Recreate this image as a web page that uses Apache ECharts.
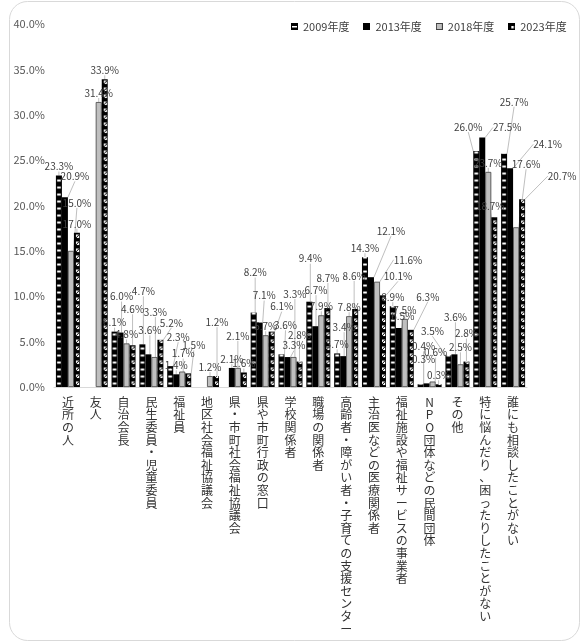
<!DOCTYPE html>
<html><head><meta charset="utf-8">
<script src="https://cdn.jsdelivr.net/npm/echarts@6/dist/echarts.min.js"></script>
<style>html,body{margin:0;padding:0;background:#fff}#c{width:582px;height:642px}</style>
</head><body><div id="c"></div>
<script>
// ---- data ----
const categories = ['近所の人','友人','自治会長','民生委員・児童委員','福祉員','地区社会福祉協議会','県・市町社会福祉協議会','県や市町行政の窓口','学校関係者','職場の関係者','高齢者・障がい者・子育ての支援センター','主治医などの医療関係者','福祉施設や福祉サービスの事業者','NPO団体などの民間団体','その他','特に悩んだり、困ったりしたことがない','誰にも相談したことがない'];
const years = ['2009年度','2013年度','2018年度','2023年度'];
const v2009 = [23.3, null, 6.1, 4.7, 2.3, null, null, 8.2, 3.6, 9.4, 3.7, 14.3, 8.9, 0.3, 3.5, 26.0, 25.7];
const v2013 = [20.9, null, 6.0, 3.6, 1.4, null, 2.1, 7.1, 3.3, 6.7, 3.4, 12.1, 6.5, 0.4, 3.6, 27.5, 24.1];
const v2018 = [15.0, 31.4, 4.8, 3.3, 1.7, 1.2, 2.1, 5.7, 3.3, 7.9, 7.8, 11.6, 7.5, 0.6, 2.5, 23.7, 17.6];
const v2023 = [17.0, 33.9, 4.6, 5.2, 1.5, 1.2, 1.6, 6.1, 2.8, 8.7, 8.6, 10.1, 6.3, 0.3, 2.8, 18.7, 20.7];
const seriesValues = [v2009, v2013, v2018, v2023];

// ---- label nudges (label centre relative to bar top-centre), by category index ----
const shift2009 = {3:[1,-53],4:[8,-29],7:[1.5,-40],8:[4,-29],9:[1,-43],13:[3,-25],14:[-16,-24],15:[-8,-24],16:[10,-52]};
const shift2013 = {0:[10,-21],2:[1,-36],3:[1.5,-24],7:[4.5,-27],8:[6.5,-11.5],9:[0.7,-36],10:[1,-29],11:[20,-46],12:[4,-11.5],13:[-3,-37],14:[1,-37],15:[25,-10],16:[37.5,-24]};
const shift2018 = {0:[6,-48],3:[1,-45],4:[1,-18],6:[0,-32],8:[1.4,-63],11:[31,-22],13:[3,-29],14:[0,-17],16:[10,-63]};
const shift2023 = {2:[0,-36],3:[11,-17],4:[5.6,-28],5:[1,-54],7:[10,-25],8:[0,-26],9:[0.6,-30],10:[-1,-33],11:[15,-19],12:[17,-33],14:[0,-28],15:[-4,-11.5],16:[40,-23]};
const shifts = [shift2009, shift2013, shift2018, shift2023];

// ---- patterns ----
function tile(w, h, draw){const c=document.createElement('canvas');c.width=w;c.height=h;const g=c.getContext('2d');draw(g,w,h);return c;}
const BW = 6;
const tile2009 = tile(BW, 7, (g,w,h)=>{g.fillStyle='#000';g.fillRect(0,0,w,h);g.fillStyle='#fff';g.fillRect(1.2,2.5,3.6,2);});
const tile2023 = tile(BW, 7, (g,w,h)=>{g.fillStyle='#000';g.fillRect(0,0,w,h);g.fillStyle='#fff';g.fillRect(2,1.5,3.2,3.5);g.strokeStyle='#000';g.lineWidth=1;g.beginPath();g.moveTo(2,5);g.lineTo(5.2,1.5);g.stroke();});
const icon2009 = tile(7,7,(g)=>{g.fillStyle='#000';g.fillRect(0,0,7,7);g.fillStyle='#fff';g.fillRect(1,3,5,1.5);});
const icon2013 = tile(7,7,(g)=>{g.fillStyle='#000';g.fillRect(0,0,7,7);});
const icon2018 = tile(7,7,(g)=>{g.fillStyle='#404040';g.fillRect(0,0,7,7);g.fillStyle='#bfbfbf';g.fillRect(1,1,5,5);});
const icon2023 = tile(7,7,(g)=>{g.fillStyle='#000';g.fillRect(0,0,7,7);g.fillStyle='#fff';g.fillRect(3,3,2.5,2.5);});
const icons = [icon2009, icon2013, icon2018, icon2023];

const chart = echarts.init(document.getElementById('c'), null, {renderer:'canvas'});
const FONT = '"Noto Sans CJK JP", "Noto Sans", sans-serif';

function labelLayout(p){
  const sh = shifts[p.seriesIndex][p.dataIndex];
  if(!sh) return {};
  const r = p.rect;
  const top = Math.min(r.y, r.y + r.height);
  return {x: r.x + r.width/2 + sh[0], y: top + sh[1], align:'center', verticalAlign:'middle'};
}

const seriesStyles = [
  {color:{image:tile2009, repeat:'repeat'}},
  {color:'#000'},
  {color:'#bfbfbf', borderColor:'#404040', borderWidth:0.8},
  {color:{image:tile2023, repeat:'repeat'}}
];

const option = {
  animation:false,
  backgroundColor:'#fff',
  textStyle:{fontFamily:FONT},
  graphic:[{type:'rect', shape:{x:9.5,y:1.5,width:570,height:639,r:18}, style:{fill:'none', stroke:'#d9d9d9', lineWidth:1}, silent:true, z:-1}],
  legend:{
    left:286, top:16, itemWidth:7, itemHeight:7, itemGap:14,
    textStyle:{fontSize:11, color:'#404040', fontFamily:FONT},
    data: years.map((y,i)=>({name:y, icon:'image://'+icons[i].toDataURL()}))
  },
  grid:{left:54, right:55, top:24, bottom:255},
  xAxis:{
    type:'category', data:categories,
    axisLine:{lineStyle:{color:'#d9d9d9'}},
    axisTick:{show:false},
    axisLabel:{interval:0, margin:9, fontSize:12, lineHeight:12.6, color:'#333', fontFamily:FONT,
      formatter:(v)=>v.split('').join('\n')}
  },
  yAxis:{
    type:'value', min:0, max:40, interval:5,
    axisLine:{show:false}, axisTick:{show:false}, splitLine:{show:false},
    axisLabel:{fontSize:11, color:'#595959', margin:9, fontFamily:FONT, formatter:(v)=>v.toFixed(1)+'%'}
  },
  series: years.map((y,j)=>({
    name:y, type:'bar', barWidth:BW, barGap:'0%',
    data: seriesValues[j],
    itemStyle: seriesStyles[j],
    label:{show:true, position:'top', distance:4, fontSize:10, color:'#404040', fontFamily:FONT,
      formatter:(p)=>p.value==null?'':Number(p.value).toFixed(1)+'%'},
    labelLine:{show:true, lineStyle:{color:'#bfbfbf', width:1}},
    labelLayout: labelLayout
  }))
};
chart.setOption(option);

// align the patterns with each bar's own left edge / baseline
const base = chart.convertToPixel({yAxisIndex:0}, 0);
const tiles = {0:tile2009, 3:tile2023};
const patched = [0,3].map(j=>({
  data: seriesValues[j].map((v,i)=>{
    if(v==null) return null;
    const cx = chart.convertToPixel({xAxisIndex:0}, i);
    const x = cx - 2*BW + j*BW;
    return {value:v, itemStyle:{color:{image:tiles[j], repeat:'repeat', x:x, y:base}}};
  })
}));
chart.setOption({series:[patched[0], {}, {}, patched[1]]});
</script></body></html>
